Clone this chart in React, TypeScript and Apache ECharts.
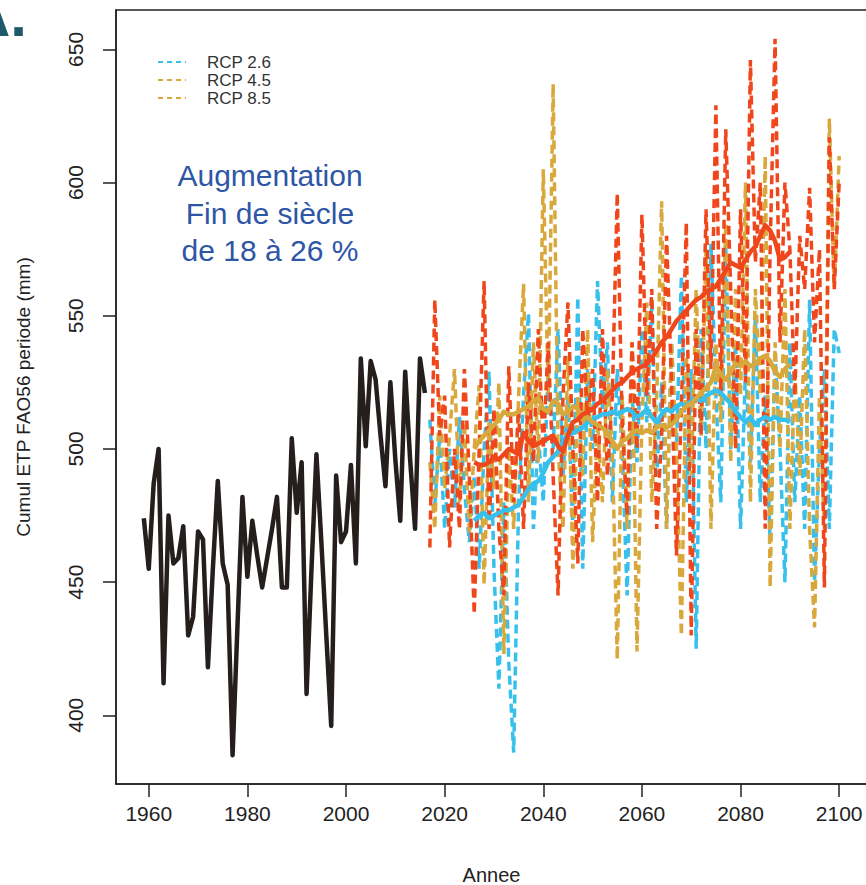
import React, { useEffect, useRef } from "react";
import * as echarts from "echarts";

const OBS_START = 1959;
const observed = [
  474, 455, 487, 500, 412, 475, 457, 459, 471, 430,
  437, 469, 466, 418, 455, 488, 457, 449, 385, 434,
  482, 452, 473, 460, 448, 459, 470, 482, 448, 448,
  504, 476, 495, 408, 455, 498, 465, 430, 396, 490,
  465, 469, 494, 457, 534, 501, 533, 526, 505, 486,
  525, 496, 473, 529, 496, 470, 534, 521,
];

const PROJ_START = 2017;
const rcp26 = [
  511, 479, 505, 470, 500, 478, 512, 485, 465, 490,
  455, 500, 529, 455, 410, 480, 420, 386, 480, 520,
  551, 470, 505, 480, 530, 500, 545, 490, 520, 470,
  557, 455, 530, 500, 563, 515, 540, 480, 530, 500,
  445, 520, 495, 545, 510, 555, 490, 525, 470, 540,
  500, 565, 480, 530, 425, 545, 500, 577, 520, 480,
  577, 500, 540, 470, 530, 495, 550, 480, 520, 465,
  535, 500, 450, 540, 480, 520, 470, 556, 450, 500,
  530, 470, 545, 536,
];
const rcp45 = [
  495, 470, 520, 485, 505, 530, 480, 510, 468, 500,
  524, 449, 510, 485, 525, 423, 500, 470, 520, 562,
  480, 540, 495, 605, 520, 637, 500, 470, 535, 455,
  520, 490, 545, 465, 510, 480, 530, 500, 421, 520,
  470, 540, 424, 510, 555, 480, 520, 593, 470, 540,
  500, 430, 535, 490, 560, 505, 575, 470, 540, 510,
  585, 495, 560, 520, 600, 480, 560, 520, 610, 448,
  540, 500, 560, 470, 530, 490, 545, 470, 433, 520,
  470, 624, 560, 610,
];
const rcp85 = [
  463, 556, 505, 520, 463, 500, 470, 530, 490, 438,
  500, 563, 470, 515, 470, 445, 531, 480, 515, 470,
  525, 495, 545, 500, 540, 490, 445, 520, 555, 500,
  457, 545, 510, 530, 480, 545, 490, 520, 596, 510,
  475, 540, 500, 588, 520, 560, 470, 505, 580, 525,
  460, 515, 585, 430, 545, 505, 590, 530, 629, 520,
  620, 560, 500, 590, 525, 646, 570, 600, 470, 575,
  654, 540, 600, 575, 520, 580, 560, 598, 540, 575,
  448, 617, 560, 600,
];

const SMOOTH_START = 2026;
const rcp26Smooth = [
  473, 475, 476, 474, 475, 476, 477, 477, 478, 479,
  482, 485, 487, 488, 491, 495, 497, 499, 503, 505,
  506, 507, 508, 510, 511, 512, 513, 513, 514, 513,
  514, 515, 514, 512, 513, 515, 512, 510, 513, 515,
  514, 516, 517, 516, 518, 519, 518, 520, 521, 522,
  521, 519, 517, 514, 512, 510, 512, 509, 511, 512,
  511, 512, 511, 511, 510,
];
const rcp45Smooth = [
  500, 503, 505, 507, 509, 511, 514, 513, 513, 514,
  515, 516, 518, 519, 515, 514, 518, 517, 513, 514,
  516, 515, 511, 512, 510, 509, 508, 506, 503, 500,
  503, 504, 506, 507, 506, 507, 506, 508, 509, 508,
  509, 511, 514, 516, 517, 519, 521, 523, 525, 531,
  528, 526, 529, 532, 531, 533, 531, 532, 534, 535,
  533, 529, 527, 530, 532,
];
const rcp85Smooth = [
  495, 494, 494, 495, 497, 496, 498, 500, 499, 498,
  506, 503, 501, 502, 503, 504, 505, 501, 499, 505,
  510, 511, 513, 514, 515, 517, 518, 520, 522, 524,
  525, 527, 529, 530, 531, 532, 534, 537, 540, 542,
  545, 548, 550, 552, 554, 556, 557, 559, 560, 561,
  564, 567, 570, 569, 568, 571, 574, 576, 580, 584,
  582, 578, 571, 572, 574,
];

const xTicks = [1960, 1980, 2000, 2020, 2040, 2060, 2080, 2100];
const yTicks = [400, 450, 500, 550, 600, 650];
const legendNames = ["RCP 2.6", "RCP 4.5", "RCP 8.5"];
const annotationLines = ["Augmentation", "Fin de siècle", "de 18 à 26 %"];

const COLORS = {
  obs: "#241f1d",
  cyan: "#38c0ec",
  gold: "#d9a83d",
  red: "#f0461b",
  axis: "#222222",
  text: "#222222",
  note: "#2f56a5",
  letter: "#1e5a69",
};
const FONT = "Liberation Sans, Arial, Helvetica, sans-serif";

const toPairs = (start: number, vals: number[]) => vals.map((v, i) => [start + i, v]);

export default function App() {
  const ref = useRef<HTMLDivElement>(null);
  useEffect(() => {
    document.body.style.margin = "0";
    if (!ref.current) return;
    const chart = echarts.init(ref.current, undefined, { renderer: "svg" });
    const dashed = (name: string, color: string, vals: number[], z: number) => ({
      name,
      type: "line",
      data: toPairs(PROJ_START, vals),
      showSymbol: false,
      symbol: "none",
      z,
      lineStyle: { color, width: 3.5, type: [9, 5] },
      silent: true,
    });
    const solid = (name: string, color: string, start: number, vals: number[], width: number, z: number) => ({
      name,
      type: "line",
      data: toPairs(start, vals),
      showSymbol: false,
      symbol: "none",
      z,
      lineStyle: { color, width, join: "round" },
      silent: true,
    });
    const legendColors = [COLORS.cyan, COLORS.gold, COLORS.gold];
    const graphic: any[] = [];
    legendNames.forEach((n, i) => {
      const y = 62 + i * 18;
      graphic.push({
        type: "line",
        shape: { x1: 158, y1: y, x2: 186, y2: y },
        style: { stroke: legendColors[i], lineWidth: 2, lineDash: [5, 4] },
        z: 100,
      });
      graphic.push({
        type: "text",
        x: 207,
        y,
        style: {
          text: n,
          fontSize: 17,
          lineHeight: 17,
          fontFamily: FONT,
          fill: "#333333",
          textAlign: "left",
          textVerticalAlign: "middle",
        },
        z: 100,
      });
    });
    graphic.push({
      type: "text",
      x: 270,
      y: 213,
      style: {
        text: annotationLines.join("\n"),
        fontSize: 30,
        lineHeight: 37.5,
        fontFamily: FONT,
        fill: COLORS.note,
        textAlign: "center",
        textVerticalAlign: "middle",
      },
      z: 100,
    });
    graphic.push({
      type: "text",
      x: 27,
      y: 15,
      style: {
        text: "A.",
        fontSize: 60,
        fontWeight: "bold",
        fontFamily: FONT,
        fill: COLORS.letter,
        textAlign: "right",
        textVerticalAlign: "middle",
      },
      z: 100,
    });

    chart.setOption({
      animation: false,
      backgroundColor: "#ffffff",
      grid: {
        left: 116,
        top: 10,
        width: 751,
        height: 774,
        show: true,
        outerBoundsMode: "none",
        containLabel: false,
        borderColor: COLORS.axis,
        borderWidth: 1.5,
        backgroundColor: "transparent",
      },
      xAxis: {
        type: "value",
        min: 1953.36,
        max: 2105.64,
        name: "Annee",
        nameLocation: "middle",
        nameGap: 81,
        nameTextStyle: { fontSize: 20, color: COLORS.text, fontFamily: FONT },
        axisLine: { show: true, onZero: false, lineStyle: { color: COLORS.axis, width: 1.5 } },
        axisTick: { show: true, customValues: xTicks, length: 13, lineStyle: { color: COLORS.axis, width: 1.5 } },
        axisLabel: {
          customValues: xTicks,
          fontSize: 21,
          color: COLORS.text,
          margin: 19,
          fontFamily: FONT,
          formatter: (v: number) => String(Math.round(v)),
        },
        splitLine: { show: false },
      },
      yAxis: {
        type: "value",
        min: 374.2,
        max: 664.8,
        name: "Cumul ETP FAO56 periode (mm)",
        nameLocation: "middle",
        nameGap: 83,
        nameRotate: 90,
        nameTextStyle: { fontSize: 19, color: COLORS.text, fontFamily: FONT },
        axisLine: { show: true, onZero: false, lineStyle: { color: COLORS.axis, width: 1.5 } },
        axisTick: { show: true, customValues: yTicks, length: 13, lineStyle: { color: COLORS.axis, width: 1.5 } },
        axisLabel: {
          customValues: yTicks,
          rotate: 90,
          fontSize: 21,
          color: COLORS.text,
          margin: 30,
          fontFamily: FONT,
          formatter: (v: number) => String(Math.round(v)),
        },
        splitLine: { show: false },
      },
      series: [
        solid("Observé", COLORS.obs, OBS_START, observed, 4.5, 5),
        dashed("RCP 2.6", COLORS.cyan, rcp26, 2),
        dashed("RCP 4.5", COLORS.gold, rcp45, 3),
        dashed("RCP 8.5", COLORS.red, rcp85, 4),
        solid("RCP 2.6 lissé", COLORS.cyan, SMOOTH_START, rcp26Smooth, 4.5, 6),
        solid("RCP 4.5 lissé", COLORS.gold, SMOOTH_START, rcp45Smooth, 4.5, 7),
        solid("RCP 8.5 lissé", COLORS.red, SMOOTH_START, rcp85Smooth, 4.5, 8),
      ],
      graphic,
    });
    return () => chart.dispose();
  }, []);
  return <div ref={ref} style={{ width: 866, height: 885 }} />;
}
